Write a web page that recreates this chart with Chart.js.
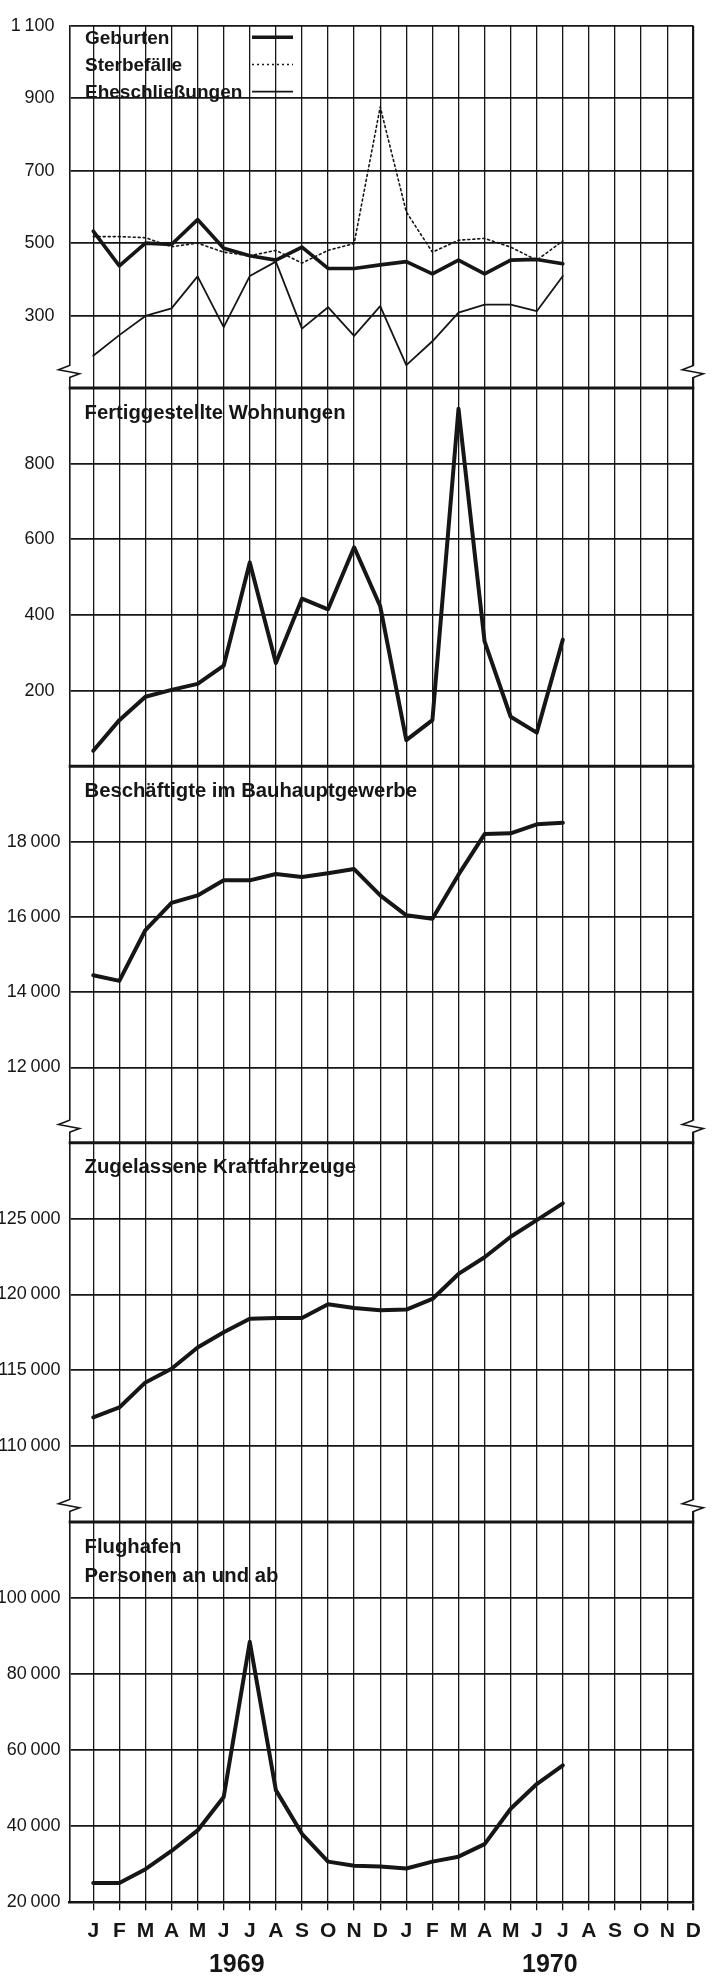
<!DOCTYPE html>
<html>
<head>
<meta charset="utf-8">
<script src="https://cdn.jsdelivr.net/npm/chart.js@4.4.0/dist/chart.umd.min.js"></script>
<style>
html, body { margin: 0; padding: 0; background: #fff; }
#wrap { position: relative; width: 713px; height: 1976px; overflow: hidden; background: #fff; }
#wrap canvas { position: absolute; left: 0; top: 0; }
</style>
</head>
<body>
<div id="wrap">
  <canvas id="c1" width="713" height="1976"></canvas>
  <canvas id="c2" width="713" height="1976"></canvas>
  <canvas id="c3" width="713" height="1976"></canvas>
  <canvas id="c4" width="713" height="1976"></canvas>
  <canvas id="c5" width="713" height="1976"></canvas>
</div>
<script>
// ---------- data ----------
const months = ['J','F','M','A','M','J','J','A','S','O','N','D','J','F','M','A','M','J','J','A','S','O','N','D'];
const years = ['1969', '1970'];
const yearPositions = [5.5, 17.5];

const geburten      = [533, 437, 500, 496, 565, 486, 465, 453, 489, 430, 430, 440, 449, 415, 453, 415, 453, 455, 443];
const sterbefaelle  = [518, 518, 515, 490, 500, 475, 465, 480, 445, 480, 499, 876, 586, 475, 508, 513, 489, 453, 506];
const eheschl       = [189, 246, 299, 320, 408, 268, 409, 449, 264, 323, 244, 326, 163, 229, 308, 330, 330, 312, 409];
const wohnungen     = [41, 122, 184, 202, 218, 266, 539, 273, 443, 415, 579, 423, 69, 122, 945, 330, 131, 89, 335];
const beschaeftigte = [14450, 14300, 15650, 16370, 16570, 16970, 16970, 17140, 17060, 17160, 17270, 16570, 16040, 15950, 17120, 18200, 18220, 18460, 18500];
const kfz           = [111900, 112550, 114200, 115100, 116500, 117500, 118400, 118450, 118450, 119350, 119100, 118950, 119000, 119700, 121350, 122450, 123800, 124900, 126000];
const flughafen     = [25100, 25100, 28700, 33500, 38900, 47700, 88500, 49500, 38000, 30700, 29600, 29400, 28900, 30700, 32000, 35300, 44600, 51100, 56000];

const ticks1 = [300, 500, 700, 900, 1100];
const tickLabels1 = ['300', '500', '700', '900', '1\u2009100'];
const ticks2 = [200, 400, 600, 800];
const tickLabels2 = ['200', '400', '600', '800'];
const ticks3 = [12000, 14000, 16000, 18000];
const tickLabels3 = ['12\u2009000', '14\u2009000', '16\u2009000', '18\u2009000'];
const ticks4 = [110000, 115000, 120000, 125000];
const tickLabels4 = ['110\u2009000', '115\u2009000', '120\u2009000', '125\u2009000'];
const ticks5 = [20000, 40000, 60000, 80000, 100000];
const tickLabels5 = ['20\u2009000', '40\u2009000', '60\u2009000', '80\u2009000', '100\u2009000'];

// ---------- look ----------
const INK = '#161616';
const FONT = '"Liberation Sans", Arial, Helvetica, sans-serif';
Chart.defaults.font.family = FONT;
Chart.defaults.color = INK;

const W = 713, H = 1976;
const LEFT = 69.5, RIGHT = 693.3;

const pts = arr => arr.map((v, i) => ({ x: i, y: v }));

const decor = {
  id: 'decor',
  afterDraw(chart, args, o) {
    const { ctx, chartArea: a } = chart;
    ctx.save();
    ctx.strokeStyle = INK;
    ctx.fillStyle = INK;
    if (o.topWidth) {
      ctx.lineWidth = o.topWidth;
      ctx.beginPath();
      ctx.moveTo(a.left - 0.8, a.top);
      ctx.lineTo(a.right + 1, a.top);
      ctx.stroke();
    }
    if (o.brk) {
      const by = a.bottom - 16.5;
      [a.left, a.right].forEach(bx => {
        ctx.fillStyle = '#fff';
        ctx.fillRect(bx - 13, by - 5.5, 26, 11);
        ctx.strokeStyle = INK;
        ctx.lineWidth = 1.6;
        ctx.beginPath();
        ctx.moveTo(bx, by - 6);
        ctx.lineTo(bx - 11, by - 1.7);
        ctx.lineTo(bx + 10, by + 2.3);
        ctx.lineTo(bx, by + 6);
        ctx.stroke();
      });
      ctx.fillStyle = INK;
    }
    ctx.textBaseline = 'middle';
    ctx.textAlign = 'left';
    if (o.title) {
      ctx.font = 'bold 20.3px ' + FONT;
      o.title.forEach((t, i) => ctx.fillText(t, a.left + 15, a.top + 25 + i * 29));
    }
    if (o.legend) {
      ctx.font = 'bold 19px ' + FONT;
      chart.data.datasets.forEach((ds, i) => {
        const y = a.top + 12.5 + i * 27.2;
        ctx.fillText(ds.label, a.left + 15.5, y);
        ctx.save();
        ctx.lineWidth = ds.borderWidth;
        ctx.setLineDash(ds.borderDash || []);
        ctx.beginPath();
        ctx.moveTo(252, y - 1);
        ctx.lineTo(293, y - 1);
        ctx.stroke();
        ctx.restore();
      });
    }
    ctx.restore();
  }
};

function makePanel(p) {
  const scales = {
    x: {
      type: 'linear', min: -0.91, max: 23,
      afterBuildTicks: s => { s.ticks = months.map((m, i) => ({ value: i })); },
      afterFit: s => { s.height = p.last ? 42 : 0; },
      grid: {
        color: INK,
        lineWidth: c => (c.tick && c.tick.value === 23) ? 2.2 : 1.3,
        drawTicks: !!p.last, tickLength: 8
      },
      border: { display: !!p.last, width: 2.6, color: INK },
      ticks: {
        display: !!p.last, padding: 8.8, maxRotation: 0, autoSkip: false,
        font: { size: 21, weight: 'bold' }, color: INK,
        callback: v => months[v]
      }
    },
    y: {
      type: 'linear', min: p.min, max: p.max,
      afterBuildTicks: s => { s.ticks = p.ticks.map(v => ({ value: v })); },
      afterFit: s => { s.width = LEFT; },
      grid: { color: INK, lineWidth: 1.7, drawTicks: false },
      border: { display: true, width: 1.6, color: INK },
      ticks: {
        padding: p.labelPad, font: { size: 18 }, color: INK,
        callback: v => p.labels[p.ticks.indexOf(v)]
      }
    }
  };
  if (p.last) {
    scales.x2 = {
      type: 'linear', position: 'bottom', axis: 'x', min: -0.91, max: 23, weight: 1,
      afterBuildTicks: s => { s.ticks = yearPositions.map(v => ({ value: v })); },
      afterFit: s => { s.height = H - p.bottom - 42; },
      grid: { display: false, drawTicks: false },
      border: { display: false },
      ticks: {
        padding: 5.7, maxRotation: 0, autoSkip: false,
        font: { size: 25, weight: 'bold' }, color: INK,
        callback: v => years[yearPositions.indexOf(v)]
      }
    };
  }
  return new Chart(document.getElementById(p.id), {
    type: 'line',
    data: { datasets: p.datasets },
    options: {
      responsive: false, animation: false, devicePixelRatio: 1,
      layout: { padding: { top: p.top, bottom: p.last ? 0 : H - p.bottom, left: 0, right: W - RIGHT } },
      elements: { point: { radius: 0 }, line: { tension: 0, borderJoinStyle: 'round', borderCapStyle: 'round' } },
      plugins: {
        legend: { display: false }, tooltip: { enabled: false },
        decor: { topWidth: p.topWidth, brk: p.brk, title: p.title, legend: p.legend }
      },
      scales
    },
    plugins: [decor]
  });
}

makePanel({
  id: 'c1', top: 11.7, bottom: 388, min: 100, max: 1100,
  ticks: ticks1, labels: tickLabels1, labelPad: 15, brk: true, legend: true, topWidth: 0,
  datasets: [
    { label: 'Geburten', data: pts(geburten), borderColor: INK, borderWidth: 3.6 },
    { label: 'Sterbefälle', data: pts(sterbefaelle), borderColor: INK, borderWidth: 1.6, borderDash: [2, 3] },
    { label: 'Eheschließungen', data: pts(eheschl), borderColor: INK, borderWidth: 1.8 }
  ]
});
makePanel({
  id: 'c2', top: 388, bottom: 766.3, min: 0, max: 1000,
  ticks: ticks2, labels: tickLabels2, labelPad: 15, topWidth: 3, title: ['Fertiggestellte Wohnungen'],
  datasets: [{ label: 'Fertiggestellte Wohnungen', data: pts(wohnungen), borderColor: INK, borderWidth: 4 }]
});
makePanel({
  id: 'c3', top: 766.3, bottom: 1142.7, min: 10000, max: 20000,
  ticks: ticks3, labels: tickLabels3, labelPad: 9, topWidth: 3, brk: true, title: ['Beschäftigte im Bauhauptgewerbe'],
  datasets: [{ label: 'Beschäftigte im Bauhauptgewerbe', data: pts(beschaeftigte), borderColor: INK, borderWidth: 4 }]
});
makePanel({
  id: 'c4', top: 1142.7, bottom: 1522, min: 105000, max: 130000,
  ticks: ticks4, labels: tickLabels4, labelPad: 9, topWidth: 3, brk: true, title: ['Zugelassene Kraftfahrzeuge'],
  datasets: [{ label: 'Zugelassene Kraftfahrzeuge', data: pts(kfz), borderColor: INK, borderWidth: 4 }]
});
makePanel({
  id: 'c5', top: 1522, bottom: 1902.3, min: 20000, max: 120000, last: true,
  ticks: ticks5, labels: tickLabels5, labelPad: 9, topWidth: 3, title: ['Flughafen', 'Personen an und ab'],
  datasets: [{ label: 'Flughafen – Personen an und ab', data: pts(flughafen), borderColor: INK, borderWidth: 4 }]
});
</script>
</body>
</html>
